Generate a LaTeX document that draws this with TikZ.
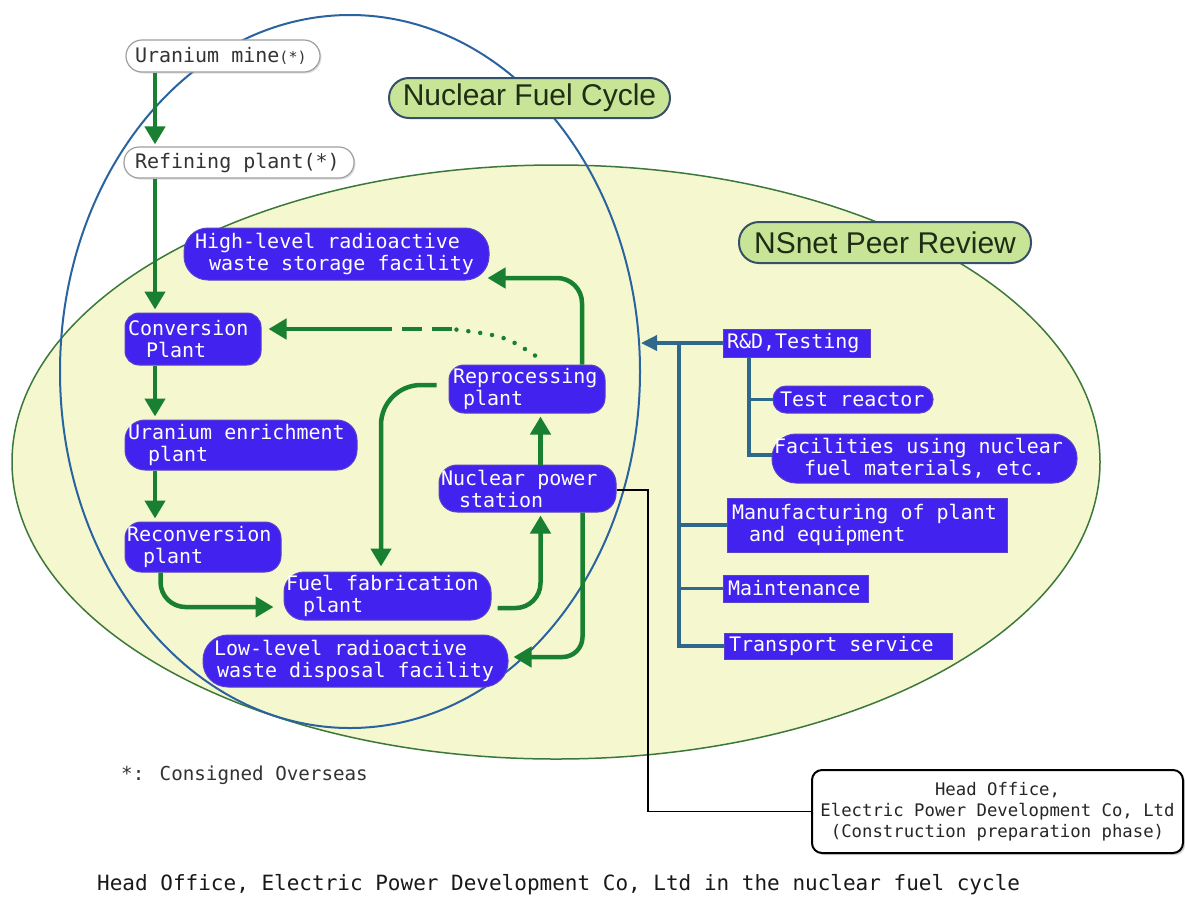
\documentclass[tikz,border=0pt]{standalone}
\usepackage{fontspec}
\usetikzlibrary{arrows.meta,calc,shadows}
\newfontfamily\monofnt{DejaVu Sans Mono}
\newfontfamily\sansfnt{Liberation Sans}
\newcommand\fsp{\spaceskip=0.602em\relax\xspaceskip=0.602em\relax}
\definecolor{nodeblue}{RGB}{66,34,238}
\definecolor{nodeedge}{RGB}{92,64,200}
\definecolor{agreen}{RGB}{24,128,48}
\definecolor{cblue}{RGB}{46,104,138}
\definecolor{ringblue}{RGB}{42,100,160}
\definecolor{ellfill}{RGB}{245,247,206}
\definecolor{elledge}{RGB}{60,120,60}
\definecolor{tagfill}{RGB}{200,228,150}
\definecolor{tagedge}{RGB}{55,80,105}
\definecolor{tagtext}{RGB}{30,45,20}
\begin{document}
\begin{tikzpicture}[x=1pt,y=-1pt,
  bnode/.style={fill=nodeblue, draw=nodeedge, line width=1pt, text=white,
    font=\monofnt\fontsize{20}{22}\selectfont, align=left, inner ysep=0pt},
  wnode/.style={fill=white, draw=gray!75, line width=1.2pt, text=black!80,
    font=\monofnt\fontsize{20}{22}\selectfont, align=left, inner ysep=0pt, rounded corners=15pt,
    drop shadow={shadow xshift=1.5pt, shadow yshift=-1.5pt, opacity=0.25}},
  tag/.style={fill=tagfill, draw=tagedge, line width=2pt, text=tagtext,
    font=\sansfnt\fontsize{30}{32}\selectfont, inner sep=0pt, rounded corners=20pt},
  garrow/.style={draw=agreen, line width=4.5pt, -{Triangle[length=18pt,width=20pt]}},
  gline/.style={draw=agreen, line width=4.5pt},
  bline/.style={draw=cblue, line width=3.5pt},
  barrow/.style={bline, -{Triangle[length=16pt,width=15pt]}},
  kline/.style={draw=black, line width=1.8pt},
]
\useasboundingbox (0,0) rectangle (1185,898);
\fill[white] (0,0) rectangle (1185,898);

% regions
\draw[fill=ellfill, draw=elledge, line width=1.5pt] (556,462) ellipse [x radius=544pt, y radius=297pt];
\draw[ringblue, line width=2pt] (350,371.5) ellipse [x radius=290pt, y radius=356.5pt];

% tags
\node[tag, minimum width=281pt, minimum height=40pt] (nfc) at (529.5,98) {Nuclear Fuel Cycle};
\node[tag, minimum width=292pt, minimum height=41pt] (nsn) at (885,242.5) {NSnet Peer Review};

% white nodes
\node[wnode, minimum height=32pt, text width=176pt, inner xsep=9pt, rounded corners=16pt] (mine) at (223,56)
  {\fsp Uranium mine{\fontsize{15}{15}\selectfont(*)}};
\node[wnode, minimum height=31pt, text width=208pt, inner xsep=11pt, rounded corners=15pt] (refine) at (239,162.5)
  {\fsp Refining plant(*)};

% cycle nodes
\node[bnode, minimum height=52pt, text width=283pt, inner xsep=11pt, rounded corners=24pt] (hl) at (336.5,254)
  {\fsp High-level radioactive\\\hspace{14pt}waste storage facility};
\node[bnode, minimum height=52pt, text width=130pt, inner xsep=3pt, rounded corners=14pt] (conv) at (193,339)
  {\fsp Conversion\\\hspace{18pt}Plant};
\node[bnode, minimum height=48pt, text width=148pt, inner xsep=4pt, rounded corners=15pt] (rep) at (527,389)
  {\fsp Reprocessing\\\hspace{10pt}plant};
\node[bnode, minimum height=50pt, text width=226pt, inner xsep=3pt, rounded corners=20pt] (enr) at (241,445)
  {\fsp Uranium enrichment\\\hspace{20pt}plant};
\node[bnode, minimum height=47pt, text width=173pt, inner xsep=2pt, rounded corners=18pt] (nuc) at (527.5,488.5)
  {\fsp Nuclear power\\\hspace{18pt}station};
\node[bnode, minimum height=50pt, text width=152pt, inner xsep=2pt, rounded corners=16pt] (reconv) at (203,547)
  {\fsp Reconversion\\\hspace{16pt}plant};
\node[bnode, minimum height=48pt, text width=203pt, inner xsep=2pt, rounded corners=20pt] (fuel) at (387.5,596)
  {\fsp Fuel fabrication\\\hspace{17pt}plant};
\node[bnode, minimum height=52pt, text width=283pt, inner xsep=11pt, rounded corners=25pt] (ll) at (355.5,661)
  {\fsp Low-level radioactive\\\hspace{3pt}waste disposal facility};

% peer review nodes
\node[bnode, minimum height=28pt, text width=139pt, inner xsep=4pt] (rd) at (796.5,343) {\fsp R\&D,Testing};
\node[bnode, minimum height=27pt, text width=146pt, inner xsep=7pt, rounded corners=13pt] (test) at (853,399.5) {\fsp Test reactor};
\node[bnode, minimum height=49pt, text width=301pt, inner xsep=2pt, rounded corners=24pt] (fac) at (924.5,458.5)
  {\fsp Facilities using nuclear\\\hspace{30pt}fuel materials, etc.};
\node[bnode, minimum height=54pt, text width=270pt, inner xsep=5pt] (man) at (867,525)
  {\fsp Manufacturing of plant\\\hspace{17pt}and equipment};
\node[bnode, minimum height=27pt, text width=135pt, inner xsep=5pt] (mai) at (795.5,588.5) {\fsp Maintenance};
\node[bnode, minimum height=26pt, text width=218pt, inner xsep=5pt] (trn) at (838,646) {\fsp Transport service};

% head office
\node[fill=white, draw=black, line width=2pt, rounded corners=10pt, minimum width=371pt, minimum height=83pt,
  align=center, inner sep=0pt, text=black!85, font=\monofnt\fontsize{17.3}{21}\selectfont,
  drop shadow={shadow xshift=2pt, shadow yshift=-2pt, opacity=0.35}] (ho) at (997.5,811.5)
  {Head Office,\\Electric Power Development Co, Ltd\\(Construction preparation phase)};

% texts
\node[anchor=west, inner sep=0pt, text=black!80, font=\monofnt\fontsize{19.2}{21}\selectfont] (note) at (121,775)
  {*: Consigned Overseas};
\node[anchor=west, inner sep=0pt, text=black!90, font=\monofnt\fontsize{21}{23}\selectfont] (cap) at (97,885)
  {Head Office, Electric Power Development Co, Ltd in the nuclear fuel cycle};

% helper coordinates
\coordinate (colx) at (155,0);
\coordinate (c2) at (540.5,0);
\coordinate (c3) at (582,0);
\coordinate (dA) at (452,329);
\coordinate (dB) at (374,329);
\coordinate (bx) at (679,0);
\coordinate (sx) at (749,0);
\coordinate (kx) at (648,0);
\coordinate (btip) at (641,343);

% green flow
\draw[garrow, shorten >=2pt] (mine.south -| colx) -- (refine.north -| colx);
\draw[garrow, shorten >=3pt] (refine.south -| colx) -- (conv.north -| colx);
\draw[garrow, shorten >=3pt] (conv.south -| colx) -- (enr.north -| colx);
\draw[garrow, shorten >=3pt] (enr.south -| colx) -- (reconv.north -| colx);
\draw[garrow, rounded corners=25pt] ($(reconv.south west)+(36,0)$) |- ($(fuel.west)+(-10,11)$);
\draw[garrow, rounded corners=25pt] ($(fuel.east)+(6,12)$) -| ($(nuc.south -| c2)+(0,3)$);
\draw[garrow] (nuc.north -| c2) -- ($(rep.south -| c2)+(0,3)$);
\draw[garrow, rounded corners=25pt] (rep.north -| c3) |- ($(hl.east)+(-2,24)$);
\draw[garrow, rounded corners=40pt] ($(rep.west)+(-12,-4)$) -| ($(fuel.north)+(-6.5,-5)$);
\draw[garrow, rounded corners=20pt] ($(nuc.south)+(55,0)$) |- ($(ll.east)+(5,-4)$);
% recycled uranium (dotted -> dashed -> solid)
\draw[gline, line cap=round, dash pattern=on 0pt off 12pt] ($(rep.north)+(8,-9)$) .. controls (505,336) .. (dA);
\draw[gline, dash pattern=on 20pt off 10pt] (dA) -- (dB);
\draw[garrow] (dB) -- ($(conv.east)+(7,-10)$);

% peer review connectors
\draw[barrow] (rd.west) -- (btip);
\draw[bline] (rd.west -| bx) |- (trn.west);
\draw[bline] (man.west -| bx) -- (man.west);
\draw[bline] (mai.west -| bx) -- (mai.west);
\draw[bline] (rd.south -| sx) |- ($(fac.west)+(0,-3.5)$);
\draw[bline] (test.west -| sx) -- (test.west);

% head office link
\draw[kline] ($(nuc.east)+(0,1.5)$) -| (ho.west -| kx) -- (ho.west);
\end{tikzpicture}
\end{document}
